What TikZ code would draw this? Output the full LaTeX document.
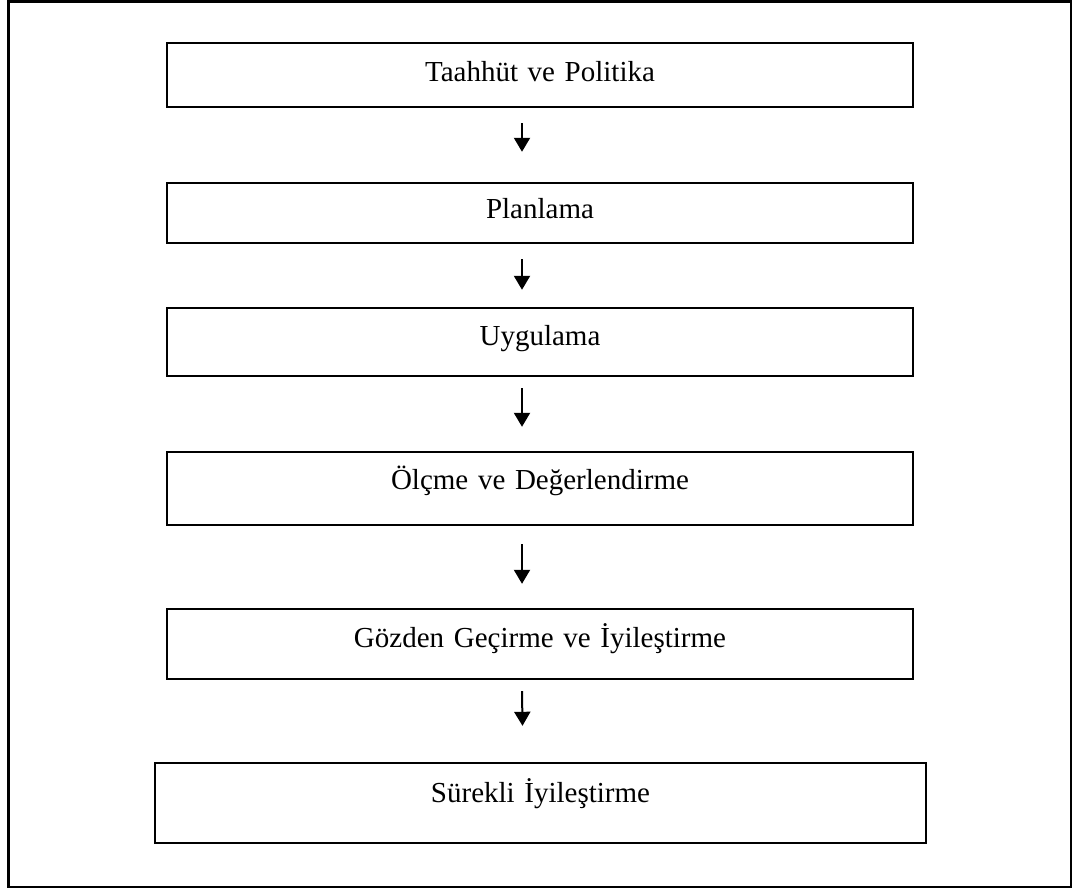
\documentclass[tikz,border=0pt]{standalone}
\usepackage{fontspec}
\setmainfont{Liberation Serif}
\usetikzlibrary{arrows.meta}
\tikzset{
  frameline/.style={draw=black, line width=2.4pt},
  flowbox/.style={draw=black, line width=2.4pt, inner sep=0pt, align=center,
    anchor=base, font=\fontsize{29}{34}\selectfont},
  flowarrow/.style={line width=2pt, -{Triangle[length=14pt,width=16pt]}}
}
\begin{document}
\begin{tikzpicture}[x=1pt, y=-1pt]
  \useasboundingbox (0,0) rectangle (1075,888);
  % outer frame
  \draw[frameline] (8.5,1.5) rectangle (1071,887);

  % process steps (placed by text baseline)
  \node[flowbox, text width=746pt, text height=39pt, text depth=25pt] (b1) at (540,82) {Taahhüt ve Politika};
  \node[flowbox, text width=746pt, text height=35pt, text depth=25pt] (b2) at (540,218) {Planlama};
  \node[flowbox, text width=746pt, text height=37pt, text depth=31pt] (b3) at (540,345) {Uygulama};
  \node[flowbox, text width=746pt, text height=37pt, text depth=36pt] (b4) at (540,489) {Ölçme ve Değerlendirme};
  \node[flowbox, text width=746pt, text height=38pt, text depth=32pt] (b5) at (540,647) {Gözden Geçirme ve İyileştirme};
  \node[flowbox, text width=771pt, text height=39pt, text depth=41pt] (b6) at (540.5,802) {Sürekli İyileştirme};

  % arrows between steps
  \draw[flowarrow] ([xshift=-18pt,yshift=-15pt]b1.south) -- ([xshift=-18pt,yshift=30pt]b2.north);
  \draw[flowarrow] ([xshift=-18pt,yshift=-15pt]b2.south) -- ([xshift=-18pt,yshift=17pt]b3.north);
  \draw[flowarrow] ([xshift=-18pt,yshift=-11pt]b3.south) -- ([xshift=-18pt,yshift=24pt]b4.north);
  \draw[flowarrow] ([xshift=-18pt,yshift=-18pt]b4.south) -- ([xshift=-18pt,yshift=24pt]b5.north);
  \draw[flowarrow] ([xshift=-18pt,yshift=-11pt]b5.south) -- ([xshift=-18pt,yshift=36pt]b6.north);
\end{tikzpicture}
\end{document}
